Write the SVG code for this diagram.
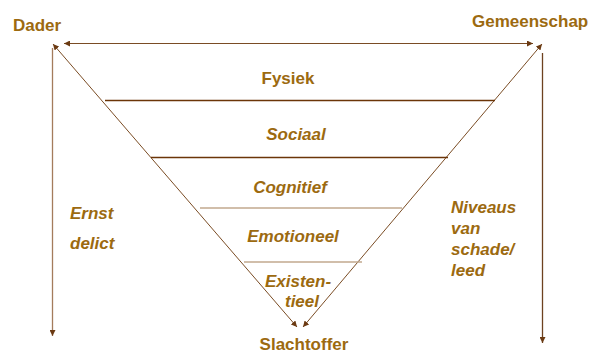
<svg xmlns="http://www.w3.org/2000/svg" width="591" height="353" viewBox="0 0 591 353">
<style>
text{font-family:"Liberation Sans",Arial,sans-serif;font-weight:bold;font-size:17px;fill:#9c6a10}
.it{font-style:italic}
.c{stroke:#7a4c24;stroke-width:1;fill:none}
.dk{stroke:#6b3508;stroke-width:1.3}
.lt{stroke:#c2a88e;stroke-width:1.3}
</style>
<defs>
<marker id="ah" viewBox="0 0 10 10" refX="10" refY="5" markerWidth="6" markerHeight="6" markerUnits="userSpaceOnUse" orient="auto-start-reverse">
<path d="M0,0 L10,5 L0,10 z" fill="#6b3a12"/>
</marker>
</defs>
<rect width="591" height="353" fill="#fff"/>
<g id="connectors">
<line class="c" x1="64" y1="43.5" x2="533" y2="43.5" marker-start="url(#ah)" marker-end="url(#ah)"/>
<line class="c" x1="53" y1="44" x2="297" y2="327" marker-start="url(#ah)" marker-end="url(#ah)"/>
<line class="c" x1="542" y1="44" x2="303" y2="327" marker-start="url(#ah)" marker-end="url(#ah)"/>
<line class="c" x1="52.5" y1="48" x2="52.5" y2="336" style="stroke:#a47c5c;stroke-width:1.3" marker-end="url(#ah)"/>
<line class="c" x1="542.5" y1="53" x2="542.5" y2="343" style="stroke:#6e4220;stroke-width:1.3" marker-end="url(#ah)"/>
<line class="dk" x1="105" y1="100.5" x2="495" y2="100.5"/>
<line class="dk" x1="151" y1="157.5" x2="448" y2="157.5"/>
<line class="lt" x1="200" y1="208" x2="402" y2="208"/>
<line class="lt" x1="244" y1="262" x2="362" y2="262"/>
</g>
<g id="dader"><text x="13" y="31">Dader</text></g>
<g id="gemeenschap"><text x="472" y="27">Gemeenschap</text></g>
<g id="slachtoffer"><text x="304" y="350" text-anchor="middle">Slachtoffer</text></g>
<g id="fysiek"><text x="288" y="84" text-anchor="middle">Fysiek</text></g>
<g id="sociaal"><text class="it" x="296" y="140" text-anchor="middle">Sociaal</text></g>
<g id="cognitief"><text class="it" x="290" y="193" text-anchor="middle">Cognitief</text></g>
<g id="emotioneel"><text class="it" x="293" y="242" text-anchor="middle">Emotioneel</text></g>
<g id="existentieel"><text class="it" x="298" y="287" text-anchor="middle">Existen-</text><text class="it" x="302" y="307" text-anchor="middle">tieel</text></g>
<g id="ernst"><text class="it" x="70" y="219">Ernst</text><text class="it" x="70" y="249">delict</text></g>
<g id="niveaus"><text class="it" x="451" y="213">Niveaus</text><text class="it" x="451" y="234">van</text><text class="it" x="451" y="255">schade/</text><text class="it" x="451" y="276">leed</text></g>
</svg>
